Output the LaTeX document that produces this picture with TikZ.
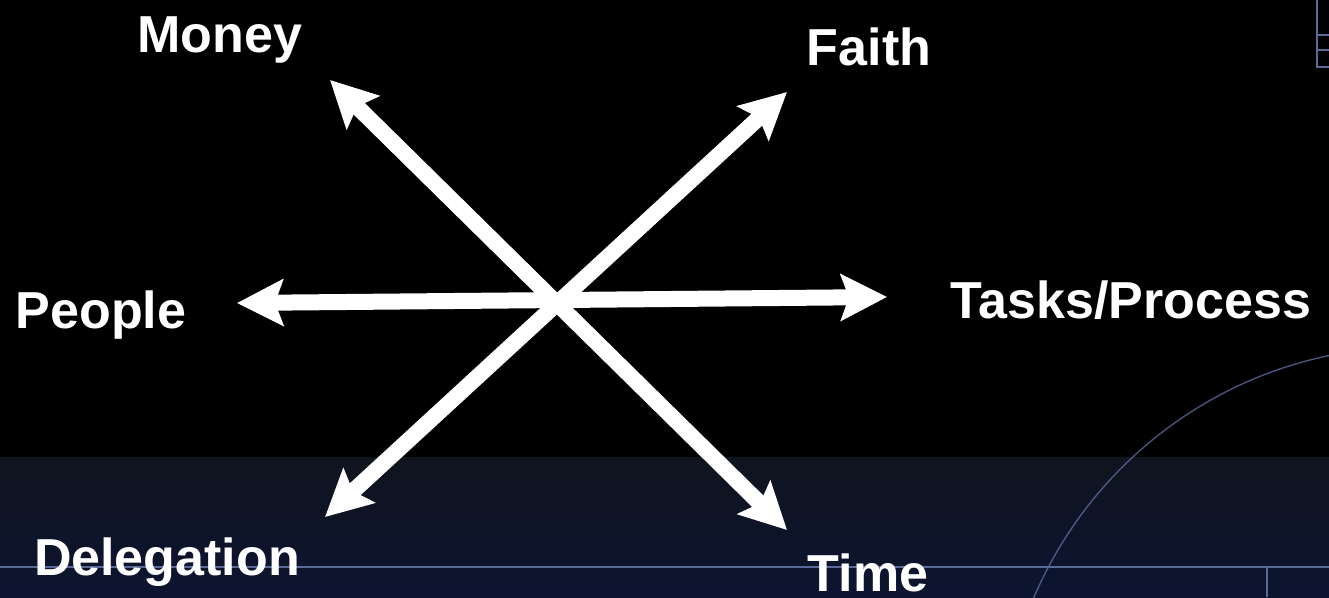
\documentclass[tikz,border=0pt]{standalone}
\usepackage{fontspec}
\setmainfont{Liberation Sans}
\usetikzlibrary{arrows.meta,positioning}

\definecolor{bandtop}{HTML}{10141F}
\definecolor{bandbot}{HTML}{0C1430}
\definecolor{gridline}{HTML}{5A6A9A}

\begin{document}
\begin{tikzpicture}[
  >={Stealth[length=4.6mm, width=4.6mm, inset=0.8mm]},
  spoke/.style={draw=white, line width=1.6mm, <->},
  lbl/.style={text=white, anchor=base, inner sep=0pt,
    font=\fontsize{14.8}{18}\selectfont\bfseries}
]

\useasboundingbox (0,0) rectangle (13.29,5.97);
\clip (0,0) rectangle (13.29,5.97);

%--------------------
% Background: black top, navy band below
%--------------------
\fill[black] (0,0) rectangle (13.29,5.97);
\shade[top color=bandtop, bottom color=bandbot] (0,0) rectangle (13.29,1.40);

% Thin decorative lines
\draw[gridline, line width=0.5pt] (0,0.30) -- (13.29,0.30);
\draw[gridline, line width=0.5pt] (12.67,0.30) -- (12.67,0);
\draw[gridline, line width=0.4pt, opacity=0.8] (14.13,-1.62) circle (4.12);

% Small box in the corner
\draw[gridline, line width=0.5pt] (13.40,5.30) -| (13.17,6.10);
\draw[gridline, line width=0.5pt] (13.17,5.62) -- (13.40,5.62);
\draw[gridline, line width=0.5pt] (13.17,5.47) -- (13.40,5.47);

%--------------------
% Arrow tips
%--------------------
\coordinate (money) at (3.30,5.17);
\coordinate (time) at (7.87,0.67);
\coordinate (faith) at (7.87,5.05);
\coordinate (deleg) at (3.25,0.80);
\coordinate (people) at (2.37,2.94);
\coordinate (tasks) at (8.87,3.00);

% Three double arrows through the centre
\draw[spoke] (money) -- (time);
\draw[spoke] (faith) -- (deleg);
\draw[spoke] (people) -- (tasks);

%--------------------
% Labels
%--------------------
\node[lbl] (moneyLbl) at (2.20,5.45) {Money};
\node[lbl] (faithLbl) at (8.69,5.32) {Faith};
\node[lbl] (peopleLbl) at (1.01,2.69) {People};
\node[lbl] (tasksLbl) at (11.31,2.79) {Tasks/Process};
\node[lbl] (delegLbl) at (1.67,0.22) {Delegation};
\node[lbl] (timeLbl) at (8.68,0.06) {Time};

\end{tikzpicture}
\end{document}
